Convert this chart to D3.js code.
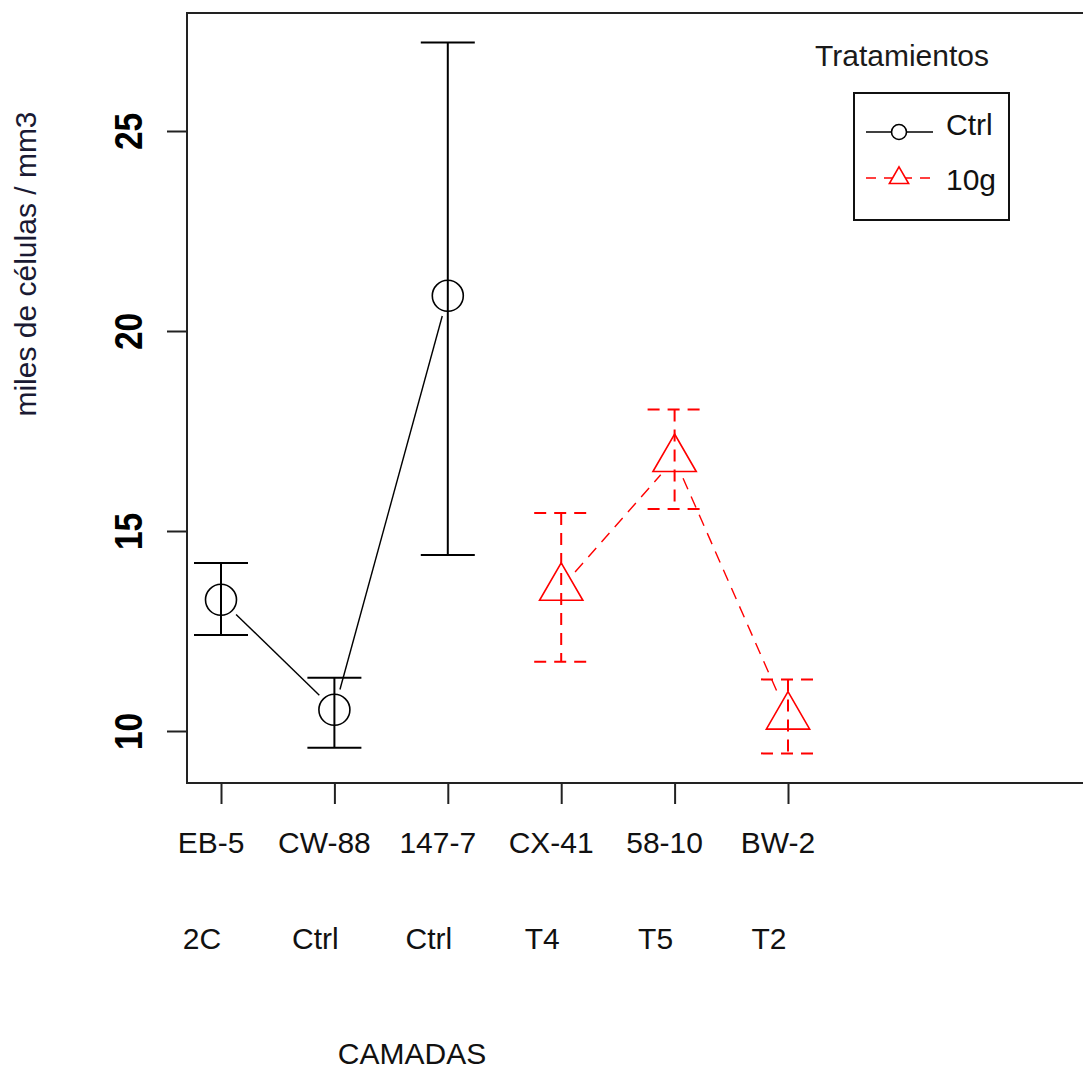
<!DOCTYPE html>
<html>
<head>
<meta charset="utf-8">
<script src="https://cdn.jsdelivr.net/npm/d3@7"></script>
<style>
  body { margin: 0; background: #fff; }
  svg { display: block; font-family: "Liberation Sans", Arial, sans-serif; }
</style>
</head>
<body>
<svg id="chart" width="1083" height="1069"></svg>
<script>
// data
var camadas = ['EB-5','CW-88','147-7','CX-41','58-10','BW-2'];
var grupos = ['2C','Ctrl','Ctrl','T4','T5','T2'];
var yTicks = [10,15,20,25];

var ctrlIdx = [0,1,2];
var ctrlMean = [13.28, 10.53, 20.88];
var ctrlLo = [12.40, 9.58, 14.40];
var ctrlHi = [14.20, 11.33, 27.21];

var g10Idx = [3,4,5];
var g10Mean = [13.58, 16.80, 10.36];
var g10Lo = [11.73, 15.55, 9.44];
var g10Hi = [15.45, 18.04, 11.29];

var series = [
  {name:'Ctrl', idx:ctrlIdx, mean:ctrlMean, lo:ctrlLo, hi:ctrlHi, color:'#000', dash:null, sym:d3.symbolCircle, size:Math.PI*15.5*15.5},
  {name:'10g', idx:g10Idx, mean:g10Mean, lo:g10Lo, hi:g10Hi, color:'#ff0000', dash:'12,8', sym:d3.symbolTriangle, size:812}
];

var svg = d3.select('#chart');
var plot = {left:187, top:13, bottom:783};

var x = d3.scaleLinear().domain([0,5]).range([221,788]);
var y = d3.scaleLinear().domain([8.7,27.95]).range([plot.bottom, plot.top]);

// box (right side runs off the picture)
svg.append('rect')
  .attr('x',plot.left).attr('y',plot.top)
  .attr('width',1000).attr('height',plot.bottom-plot.top)
  .attr('fill','none').attr('stroke','#222').attr('stroke-width',2);

// y axis
var ya = svg.append('g')
  .attr('transform','translate(' + plot.left + ',0)')
  .call(d3.axisLeft(y).tickValues(yTicks).tickSize(20).tickSizeOuter(0));
ya.select('.domain').remove();
ya.selectAll('line').attr('stroke','#222').attr('stroke-width',2);
ya.selectAll('text')
  .attr('x',null).attr('dy',null)
  .attr('fill','#000')
  .attr('font-size',38).attr('font-weight','bold')
  .attr('font-family','"Liberation Sans", Arial, sans-serif')
  .attr('text-anchor','middle')
  .attr('transform','translate(-45,0) rotate(-90) scale(0.88,1)');

// x axis
var xa = svg.append('g')
  .attr('transform','translate(0,' + plot.bottom + ')')
  .call(d3.axisBottom(x).tickValues(d3.range(camadas.length)).tickSize(21).tickSizeOuter(0).tickFormat(''));
xa.select('.domain').remove();
xa.selectAll('line').attr('stroke','#222').attr('stroke-width',2);

svg.append('g').selectAll('text').data(camadas).enter().append('text')
  .attr('x',function(d,i){ return x(i) - 10; })
  .attr('y',853)
  .attr('text-anchor','middle').attr('font-size',30).attr('fill','#111')
  .text(function(d){ return d; });

svg.append('g').selectAll('text').data(grupos).enter().append('text')
  .attr('x',function(d,i){ return x(i) - 19; })
  .attr('y',949)
  .attr('text-anchor','middle').attr('font-size',30).attr('fill','#111')
  .text(function(d){ return d; });

svg.append('text')
  .attr('x',412).attr('y',1064)
  .attr('text-anchor','middle').attr('font-size',30).attr('fill','#111')
  .text('CAMADAS');

svg.append('text')
  .attr('transform','translate(36,264) rotate(-90)')
  .attr('text-anchor','middle').attr('font-size',30).attr('fill','#1a1a33')
  .text('miles de células / mm3');

// lines with gaps around the points (type = "b")
var gap = 21;
series.forEach(function(s) {
  var pts = s.idx.map(function(i,k){ return [x(i), y(s.mean[k])]; });
  var g = svg.append('g');
  for (var k = 0; k < pts.length - 1; k++) {
    var a = pts[k], b = pts[k+1];
    var dx = b[0]-a[0], dy = b[1]-a[1], len = Math.sqrt(dx*dx+dy*dy);
    var ux = dx/len, uy = dy/len;
    g.append('line')
      .attr('x1',a[0]+ux*gap).attr('y1',a[1]+uy*gap)
      .attr('x2',b[0]-ux*gap).attr('y2',b[1]-uy*gap)
      .attr('stroke',s.color).attr('stroke-width',1.4)
      .attr('stroke-dasharray',s.dash);
  }

  // error bars
  var eb = g.selectAll('g.eb').data(s.idx).enter().append('g').attr('class','eb');
  eb.append('line')
    .attr('x1',function(i){ return x(i); }).attr('x2',function(i){ return x(i); })
    .attr('y1',function(i,k){ return y(s.hi[k]); }).attr('y2',function(i,k){ return y(s.lo[k]); });
  eb.append('line')
    .attr('x1',function(i){ return x(i)-27; }).attr('x2',function(i){ return x(i)+27; })
    .attr('y1',function(i,k){ return y(s.hi[k]); }).attr('y2',function(i,k){ return y(s.hi[k]); });
  eb.append('line')
    .attr('x1',function(i){ return x(i)-27; }).attr('x2',function(i){ return x(i)+27; })
    .attr('y1',function(i,k){ return y(s.lo[k]); }).attr('y2',function(i,k){ return y(s.lo[k]); });
  eb.selectAll('line')
    .attr('stroke',s.color).attr('stroke-width',2)
    .attr('stroke-dasharray',s.dash);

  // points
  g.selectAll('path.pt').data(s.idx).enter().append('path')
    .attr('class','pt')
    .attr('d',d3.symbol(s.sym, s.size))
    .attr('transform',function(i,k){ return 'translate(' + x(i) + ',' + y(s.mean[k]) + ')'; })
    .attr('fill','none').attr('stroke',s.color).attr('stroke-width',1.6);
});

// legend
svg.append('text')
  .attr('x',902).attr('y',66)
  .attr('text-anchor','middle').attr('font-size',30).attr('fill','#1a1a1a')
  .text('Tratamientos');

svg.append('rect')
  .attr('x',854).attr('y',93).attr('width',155).attr('height',127)
  .attr('fill','none').attr('stroke','#111').attr('stroke-width',2);

var leg = [
  {label:'Ctrl', ly:132, ty:135, color:'#000', dash:null, sym:d3.symbolCircle, size:Math.PI*7.5*7.5},
  {label:'10g', ly:178, ty:190, color:'#ff0000', dash:'10,8', sym:d3.symbolTriangle, size:160}
];
var lg = svg.append('g').selectAll('g').data(leg).enter().append('g');
lg.append('line')
  .attr('x1',866).attr('x2',933)
  .attr('y1',function(d){ return d.ly; }).attr('y2',function(d){ return d.ly; })
  .attr('stroke',function(d){ return d.color; }).attr('stroke-width',1.6)
  .attr('stroke-dasharray',function(d){ return d.dash; });
lg.append('path')
  .attr('d',function(d){ return d3.symbol(d.sym, d.size)(); })
  .attr('transform',function(d){ return 'translate(899,' + d.ly + ')'; })
  .attr('fill','#fff').attr('stroke',function(d){ return d.color; }).attr('stroke-width',1.6);
lg.append('text')
  .attr('x',946).attr('y',function(d){ return d.ty; })
  .attr('font-size',30).attr('fill','#111')
  .text(function(d){ return d.label; });
</script>
</body>
</html>
